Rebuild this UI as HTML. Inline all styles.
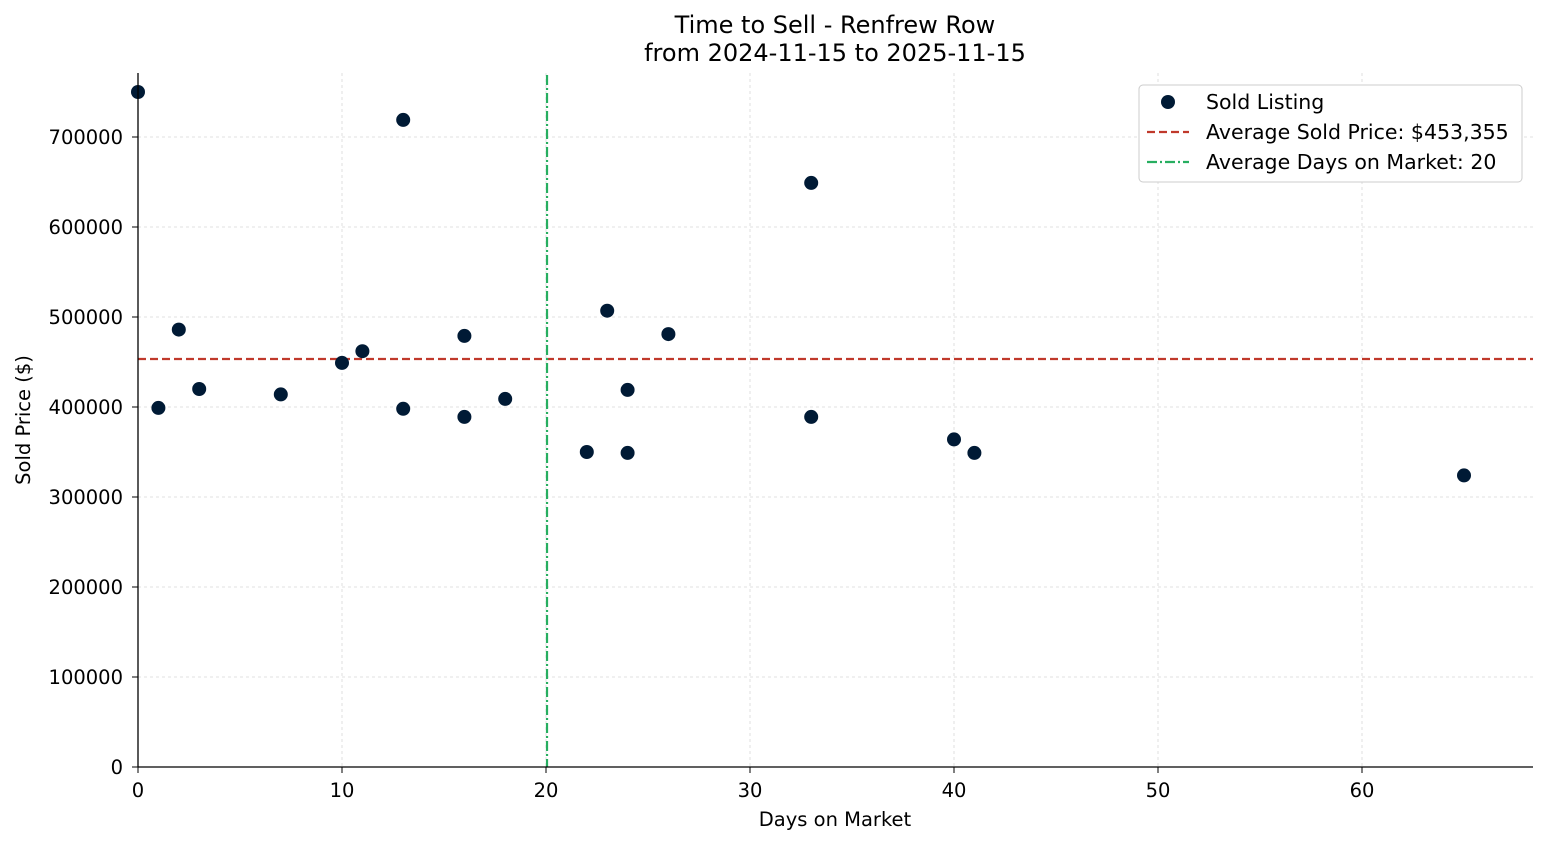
<!DOCTYPE html>
<html><head><meta charset="utf-8"><style>
body{margin:0;background:#fff;}
svg{font-family:"DejaVu Sans","Liberation Sans",sans-serif;}
</style></head><body>
<svg id="chart" width="1547" height="845" xmlns="http://www.w3.org/2000/svg">
<text x="835" y="33" text-anchor="middle" font-size="24" fill="#000">Time to Sell - Renfrew Row</text>
<text x="835" y="61" text-anchor="middle" font-size="24" fill="#000">from 2024-11-15 to 2025-11-15</text>
<g id="grid"></g>
<g id="ticks"></g>
<g id="lines"></g>
<g id="points"></g>
<line x1="138" y1="73" x2="138" y2="767" stroke="#000" stroke-width="1.3"/>
<line x1="138" y1="767" x2="1533" y2="767" stroke="#000" stroke-width="1.3"/>
<text x="835" y="826" text-anchor="middle" font-size="19.5">Days on Market</text>
<text transform="translate(30,420) rotate(-90)" text-anchor="middle" font-size="19.5">Sold Price ($)</text>
<g>
<rect x="1139" y="85" width="383" height="97" rx="4" fill="#fff" stroke="#ccc"/>
<circle cx="1168" cy="102" r="7" fill="#001a35"/>
<text x="1206" y="109" font-size="20.5">Sold Listing</text>
<line x1="1147" y1="132" x2="1189" y2="132" stroke="#c0392b" stroke-width="2.2" stroke-dasharray="8,4"/>
<text x="1206" y="139" font-size="20.5">Average Sold Price: $453,355</text>
<line x1="1147" y1="162" x2="1189" y2="162" stroke="#27ae60" stroke-width="2.2" stroke-dasharray="10,3,2,3"/>
<text x="1206" y="169" font-size="20.5">Average Days on Market: 20</text>
</g>
</svg>
<script>
const days=[0,1,2,3,7,10,11,13,13,16,16,18,22,23,24,24,26,33,33,40,41,65];
const prices=[750000,399000,486000,420000,414000,449000,462000,719000,398000,479000,389000,409000,350000,507000,419000,349000,481000,649000,389000,364000,349000,324000];
const avgPrice=453355;
const avgDays=20.05;
const xTicks=[0,10,20,30,40,50,60];
const yTicks=[0,100000,200000,300000,400000,500000,600000,700000];
const NS="http://www.w3.org/2000/svg";
const X=d=>138+d*20.4;
const Y=p=>767-p*0.0009;
function mk(t,a,parent){const e=document.createElementNS(NS,t);for(const k in a)e.setAttribute(k,a[k]);document.getElementById(parent).appendChild(e);return e;}
xTicks.forEach(t=>{
 const g=mk('line',{x1:X(t),x2:X(t),y1:73,y2:767,stroke:'#d8d8d8','stroke-dasharray':'3,3','stroke-width':0.8},'grid');
 
 
 const tk=mk('line',{x1:X(t),x2:X(t),y1:767,y2:773,stroke:'#000'},'ticks');
 
 
 const tx=mk('text',{x:X(t),y:797,'text-anchor':'middle','font-size':19.5},'ticks');
 tx.textContent=t;
 
 
});
yTicks.forEach(t=>{
 const g=mk('line',{x1:138,x2:1533,y1:Y(t),y2:Y(t),stroke:'#d8d8d8','stroke-dasharray':'3,3','stroke-width':0.8},'grid');
 
 
 const tk=mk('line',{x1:132,x2:138,y1:Y(t),y2:Y(t),stroke:'#000'},'ticks');
 
 
 const tx=mk('text',{x:123,y:Y(t)+7,'text-anchor':'end','font-size':19.5},'ticks');
 tx.textContent=t;
 
 
});
const h=mk('line',{x1:138,x2:1533,y1:Y(avgPrice),y2:Y(avgPrice),stroke:'#c0392b','stroke-width':2.2,'stroke-dasharray':'8,4'},'lines');


const v=mk('line',{x1:X(avgDays),x2:X(avgDays),y1:75,y2:767,stroke:'#27ae60','stroke-width':2.2,'stroke-dasharray':'10,3,2,3'},'lines');


days.forEach((d,i)=>{
 const c=mk('circle',{cx:X(d),cy:Y(prices[i]),r:7,fill:'#001a35'},'points');
 
 
});
</script>
</body></html>
